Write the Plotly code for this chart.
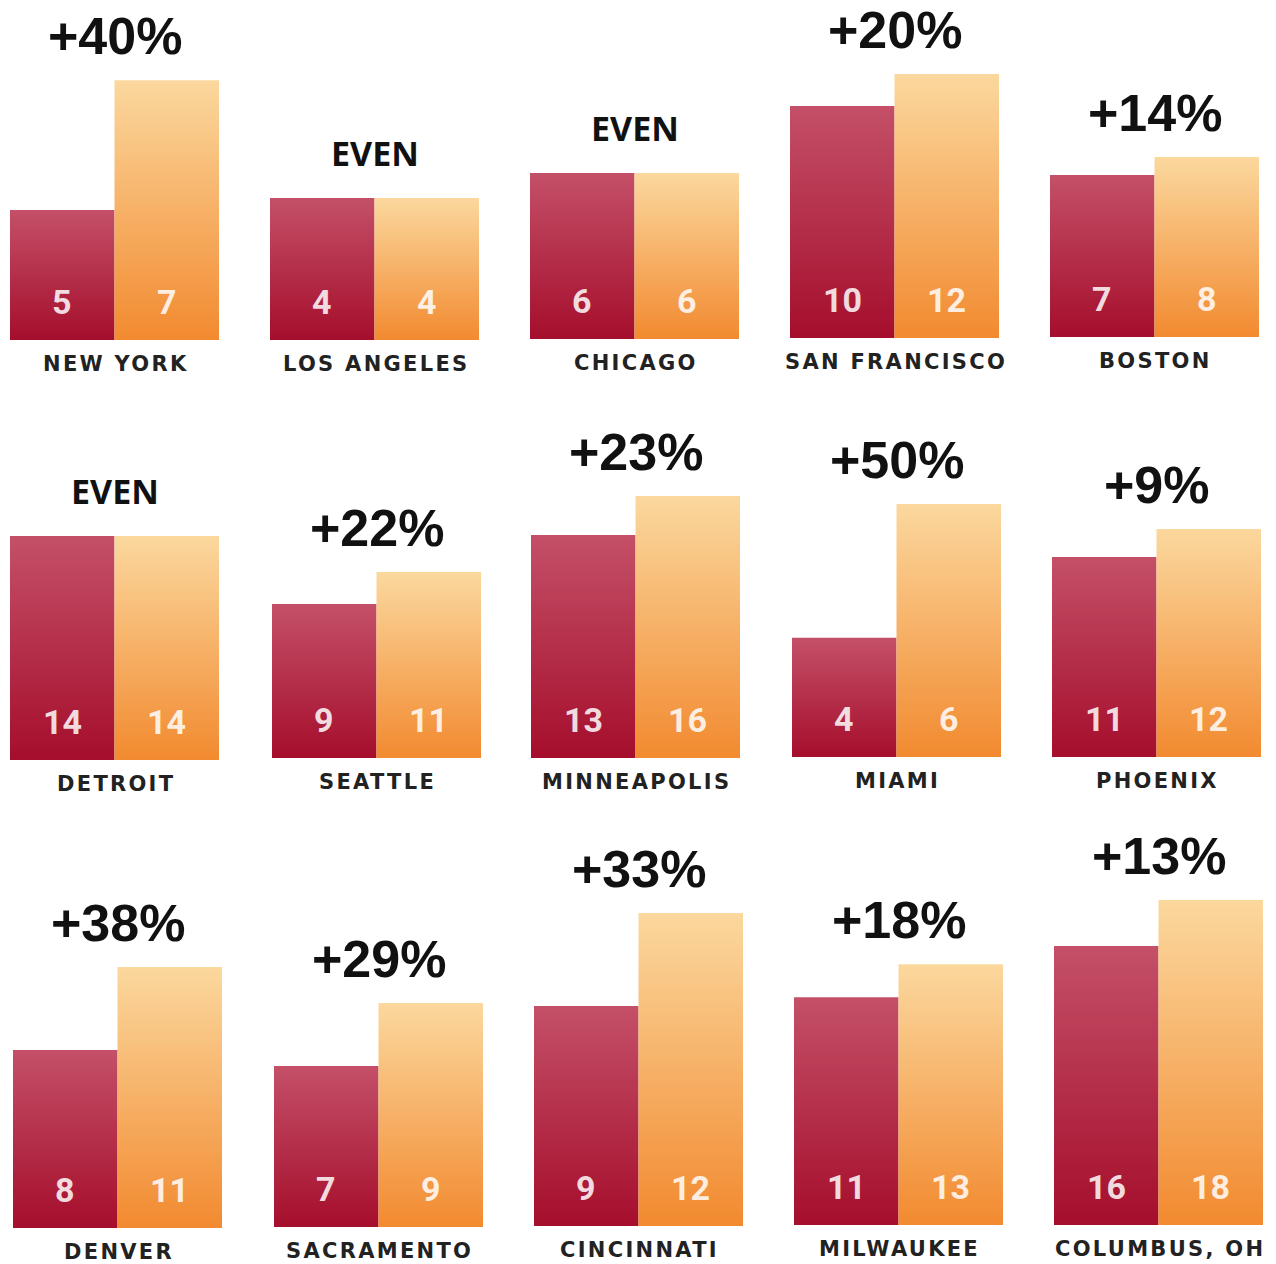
import plotly.graph_objects as go

# ---- data ----
cities = ["NEW YORK", "LOS ANGELES", "CHICAGO", "SAN FRANCISCO", "BOSTON",
          "DETROIT", "SEATTLE", "MINNEAPOLIS", "MIAMI", "PHOENIX",
          "DENVER", "SACRAMENTO", "CINCINNATI", "MILWAUKEE", "COLUMBUS, OH"]
before = [5, 4, 6, 10, 7, 14, 9, 13, 4, 11, 8, 7, 9, 11, 16]
after = [7, 4, 6, 12, 8, 14, 11, 16, 6, 12, 11, 9, 12, 13, 18]
changes = ["+40%", "EVEN", "EVEN", "+20%", "+14%",
           "EVEN", "+22%", "+23%", "+50%", "+9%",
           "+38%", "+29%", "+33%", "+18%", "+13%"]

# ---- layout (per-panel axis ranges and positions, page px) ----
W, H = 1276, 1264
P = 328  # plot-area height of each panel in px
y_ranges = [[3, 8.05], [0, 9.24], [0, 11.85], [-4.5, 16.0], [-2, 16.22],
            [0, 20.5], [-0.625, 19.875], [-4.15, 21.08], [2.22, 7.12], [3.86, 15.57],
            [1.57, 13.42], [1.89, 12.30], [1.9, 12.48], [-2.8, 17.08], [3.87, 18.13]]
panel_left = [10, 270, 530, 790, 1050,
              10, 272, 531, 792, 1052,
              13, 274, 534, 794, 1054]
panel_bottom = [340, 340, 339, 338, 337,
                760, 758, 758, 757, 757,
                1228, 1227, 1226, 1225, 1225]
panel_w = 209

red_scale = [[0, "#a50e2c"], [1, "#c45068"]]
orange_scale = [[0, "#f28a30"], [1, "#fbd89e"]]

fig = go.Figure()
layout = dict(width=W, height=H, margin=dict(l=0, r=0, t=0, b=0),
              paper_bgcolor="white", plot_bgcolor="rgba(0,0,0,0)",
              showlegend=False)
annotations = []

for k in range(len(cities)):
    sfx = "" if k == 0 else str(k + 1)
    xa, ya = "x" + sfx, "y" + sfx
    lo, hi = y_ranges[k]
    left = panel_left[k]
    bottom = panel_bottom[k]
    x0 = left / W
    x1 = (left + panel_w) / W
    yb = 1 - bottom / H
    yt = 1 - (bottom - P) / H
    layout["xaxis" + sfx] = dict(domain=[x0, x1], range=[-0.5, 1.5], visible=False,
                                 anchor=ya, fixedrange=True)
    layout["yaxis" + sfx] = dict(domain=[yb, min(yt, 1.0)], range=[lo, hi], visible=False,
                                 anchor=xa, fixedrange=True)
    for i, (v, cs) in enumerate([(before[k], red_scale), (after[k], orange_scale)]):
        fig.add_trace(go.Scatter(
            x=[i - 0.5, i + 0.5, i + 0.5, i - 0.5, i - 0.5],
            y=[lo, lo, v, v, lo],
            fill="toself", mode="lines", line=dict(width=0),
            fillgradient=dict(type="vertical", colorscale=cs),
            hoverinfo="skip", xaxis=xa, yaxis=ya))
        annotations.append(dict(
            x=i, y=lo, xref=xa, yref=ya, text=str(v), showarrow=False,
            yanchor="middle", yshift=38,
            font=dict(family="Roboto", size=34, color="rgba(255,255,255,0.85)",
                      weight="bold")))
    even = changes[k] == "EVEN"
    annotations.append(dict(
        x=0.5, y=max(before[k], after[k]), xref=xa, yref=ya, text=changes[k],
        showarrow=False, yanchor="middle", yshift=45 if even else 44,
        font=dict(family="Open Sans" if even else "Liberation Sans",
                  size=34 if even else 52, color="#111111", weight="bold")))
    annotations.append(dict(
        x=0.5, y=lo, xref=xa, yref=ya,
        text='<span style="letter-spacing:2.3px">' + cities[k] + '</span>',
        showarrow=False, yanchor="middle", yshift=-24, xshift=1,
        font=dict(family="DejaVu Sans", size=21, color="#222222", weight="bold")))

layout["annotations"] = annotations
fig.update_layout(**layout)
fig.write_html("out.html", config={"displayModeBar": False},
               post_script="document.body.style.margin='0px';")
